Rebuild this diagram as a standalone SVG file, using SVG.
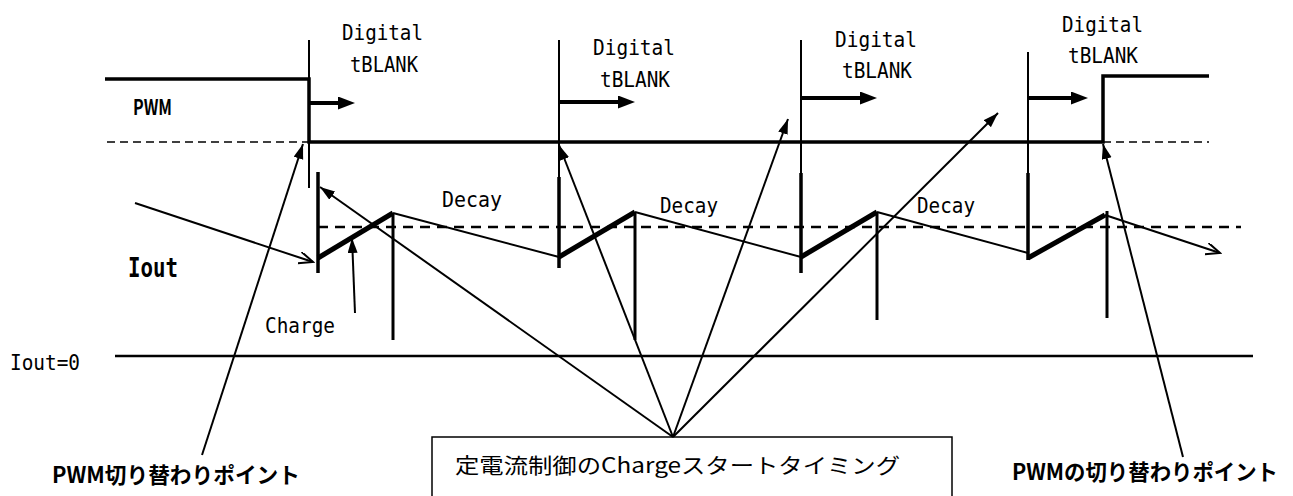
<svg xmlns="http://www.w3.org/2000/svg" width="1293" height="496" viewBox="0 0 1293 496">
<style>
.mono{font-family:"DejaVu Sans Mono","Liberation Mono",monospace;fill:#000}
.jp{font-family:"Noto Sans CJK JP","Noto Sans",sans-serif;fill:#000}
.b{font-weight:bold}
.sig{stroke:#000;fill:none}
.ptr{stroke:#000;stroke-width:2;fill:none}
.dash1{stroke:#000;stroke-width:1.5;stroke-dasharray:8 5;fill:none}
.dash2{stroke:#000;stroke-width:2.5;stroke-dasharray:10 7;fill:none}
</style>
<defs>
<marker id="blank" markerUnits="userSpaceOnUse" markerWidth="18" markerHeight="14" refX="5" refY="6.5" orient="auto">
<path d="M0,0 L17,6.5 L0,13 z" fill="#000"/>
</marker>
<marker id="tri" markerUnits="userSpaceOnUse" markerWidth="16" markerHeight="11" refX="15" refY="5" orient="auto">
<path d="M0,0 L15,5 L0,10 z" fill="#000"/>
</marker>
<marker id="open" markerUnits="userSpaceOnUse" markerWidth="16" markerHeight="14" refX="14" refY="6" orient="auto">
<path d="M0,0 L14,6 L0,12" fill="none" stroke="#000" stroke-width="2"/>
</marker>
</defs>
<rect width="1293" height="496" fill="#fff"/>

<g id="pwm-signal">
<polyline class="sig" stroke-width="3.5" points="105,79 309,79 309,142 1103,142 1103,76 1209,76"/>
<line class="dash1" x1="107" y1="142" x2="309" y2="142"/>
<line class="dash1" x1="1103" y1="142" x2="1209" y2="142"/>
<text class="jp b" x="133" y="115" font-size="21" textLength="39" lengthAdjust="spacingAndGlyphs">PWM</text>
</g>

<g id="blank-markers">
<line class="sig" stroke-width="2" x1="309" y1="40" x2="309" y2="188"/>
<line class="sig" stroke-width="2" x1="559" y1="40" x2="559" y2="177"/>
<line class="sig" stroke-width="2" x1="801" y1="40" x2="801" y2="173"/>
<line class="sig" stroke-width="2" x1="1028" y1="52" x2="1028" y2="173"/>
<line class="sig" stroke-width="4" x1="310" y1="103" x2="343" y2="103" marker-end="url(#blank)"/>
<line class="sig" stroke-width="4" x1="559" y1="102" x2="623" y2="102" marker-end="url(#blank)"/>
<line class="sig" stroke-width="4" x1="801" y1="98" x2="865" y2="98" marker-end="url(#blank)"/>
<line class="sig" stroke-width="4" x1="1028" y1="98" x2="1076" y2="98" marker-end="url(#blank)"/>
<text class="mono" x="342" y="40" font-size="21" textLength="81" lengthAdjust="spacingAndGlyphs">Digital</text>
<text class="mono" x="350" y="72" font-size="21" textLength="68" lengthAdjust="spacingAndGlyphs">tBLANK</text>
<text class="mono" x="593" y="55" font-size="21" textLength="82" lengthAdjust="spacingAndGlyphs">Digital</text>
<text class="mono" x="600" y="87" font-size="21" textLength="70" lengthAdjust="spacingAndGlyphs">tBLANK</text>
<text class="mono" x="835" y="47" font-size="21" textLength="82" lengthAdjust="spacingAndGlyphs">Digital</text>
<text class="mono" x="842" y="78" font-size="21" textLength="70" lengthAdjust="spacingAndGlyphs">tBLANK</text>
<text class="mono" x="1062" y="32" font-size="21" textLength="81" lengthAdjust="spacingAndGlyphs">Digital</text>
<text class="mono" x="1068" y="63" font-size="21" textLength="70" lengthAdjust="spacingAndGlyphs">tBLANK</text>
</g>

<g id="iout-signal">
<line class="dash2" x1="318" y1="227" x2="1241" y2="227"/>
<line class="sig" stroke-width="3.5" x1="318" y1="172" x2="318" y2="273"/>
<line class="sig" stroke-width="3.5" x1="559" y1="177" x2="559" y2="268"/>
<line class="sig" stroke-width="3.5" x1="801" y1="173" x2="801" y2="273"/>
<line class="sig" stroke-width="3.5" x1="1028" y1="173" x2="1028" y2="260"/>
<line class="sig" stroke-width="3" x1="393" y1="213" x2="393" y2="340"/>
<line class="sig" stroke-width="3" x1="635" y1="212" x2="635" y2="340"/>
<line class="sig" stroke-width="3" x1="877" y1="212" x2="877" y2="320"/>
<line class="sig" stroke-width="3" x1="1107" y1="211" x2="1107" y2="318"/>
<line class="sig" stroke-width="5" x1="318" y1="258" x2="393" y2="213"/>
<line class="sig" stroke-width="5" x1="559" y1="257" x2="635" y2="212"/>
<line class="sig" stroke-width="5" x1="801" y1="257" x2="877" y2="212"/>
<line class="sig" stroke-width="5" x1="1028" y1="258" x2="1105" y2="215"/>
<line class="sig" stroke-width="2" x1="393" y1="213" x2="559" y2="257"/>
<line class="sig" stroke-width="2" x1="635" y1="212" x2="801" y2="257"/>
<line class="sig" stroke-width="2" x1="877" y1="212" x2="1028" y2="253"/>
<line class="sig" stroke-width="2" x1="1105" y1="215" x2="1220" y2="253" marker-end="url(#open)"/>
<text class="mono b" x="128" y="277" font-size="26" textLength="50" lengthAdjust="spacingAndGlyphs">Iout</text>
<text class="mono" x="442" y="207" font-size="21" textLength="60" lengthAdjust="spacingAndGlyphs">Decay</text>
<text class="mono" x="660" y="213" font-size="21" textLength="58" lengthAdjust="spacingAndGlyphs">Decay</text>
<text class="mono" x="917" y="213" font-size="21" textLength="58" lengthAdjust="spacingAndGlyphs">Decay</text>
<text class="mono" x="265" y="333" font-size="21" textLength="70" lengthAdjust="spacingAndGlyphs">Charge</text>
</g>

<g id="zero-line">
<line class="sig" stroke-width="2.5" x1="115" y1="356" x2="1253" y2="356"/>
<text class="mono" x="10" y="370" font-size="21" textLength="70" lengthAdjust="spacingAndGlyphs">Iout=0</text>
</g>

<g id="note-box">
<rect x="432" y="437" width="520" height="80" fill="#fff" stroke="#000" stroke-width="1.5"/>
<text class="jp" x="455" y="473" font-size="21" textLength="445" lengthAdjust="spacingAndGlyphs">定電流制御のChargeスタートタイミング</text>
</g>

<g id="label-left">
<text class="jp b" x="52" y="483" font-size="22" textLength="248" lengthAdjust="spacingAndGlyphs">PWM切り替わりポイント</text>
</g>
<g id="label-right">
<text class="jp b" x="1012" y="480" font-size="22" textLength="266" lengthAdjust="spacingAndGlyphs">PWMの切り替わりポイント</text>
</g>

<g id="connectors">
<line class="ptr" x1="202" y1="455" x2="303" y2="144" marker-end="url(#tri)"/>
<line class="ptr" x1="1183" y1="457" x2="1103" y2="144" marker-end="url(#tri)"/>
<line class="ptr" x1="673" y1="437" x2="320" y2="187" marker-end="url(#tri)"/>
<line class="ptr" x1="673" y1="437" x2="559" y2="145" marker-end="url(#tri)"/>
<line class="ptr" x1="673" y1="437" x2="788" y2="119" marker-end="url(#tri)"/>
<line class="ptr" x1="673" y1="437" x2="998" y2="113" marker-end="url(#tri)"/>
<line class="ptr" x1="135" y1="203" x2="313" y2="262" marker-end="url(#open)"/>
<line class="ptr" x1="355" y1="313" x2="352" y2="238" marker-end="url(#tri)"/>
</g>
</svg>
